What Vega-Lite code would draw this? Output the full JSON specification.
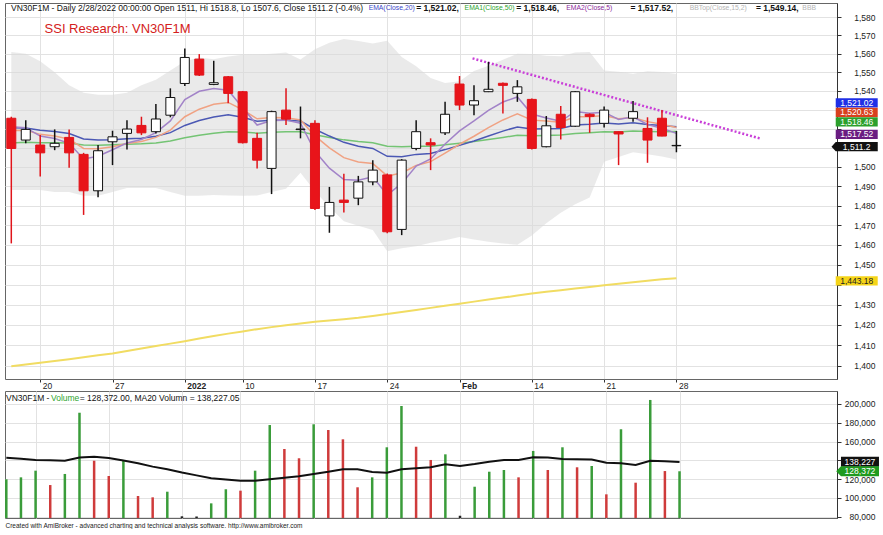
{
"$schema":"https://vega.github.io/schema/vega-lite/v6.json",
"padding":{"left":1,"top":2,"right":0,"bottom":0},
"background":"white",
"config":{"font":"Liberation Sans","view":{"stroke":"#666","strokeWidth":1},"axis":{"labelFont":"Liberation Sans","titleFont":"Liberation Sans","labelOverlap":false,"labelSeparation":0}},
"datasets":{"days":[
{"d":"2021-12-16","i":-2,"o":1525.5,"h":1526.3,"l":1460.7,"c":1509.6,"e5":1521.0,"e10":1519.0,"e20":1520.5,"e50":1512.5,"bbt":1561,"bbb":1488,"ma":1399.8,"v":119800,"vd":"up","vma":142800},
{"d":"2021-12-17","i":-1,"o":1514.0,"h":1524.5,"l":1512.3,"c":1519.6,"e5":1520.5,"e10":1519.1,"e20":1520.4,"e50":1512.8,"bbt":1560,"bbb":1488,"ma":1400.6,"v":121900,"vd":"up","vma":141800},
{"d":"2021-12-20","i":0,"o":1511.4,"h":1516.6,"l":1495.0,"c":1507.3,"e5":1516.1,"e10":1517.0,"e20":1519.2,"e50":1512.6,"bbt":1556,"bbb":1488,"ma":1401.5,"v":129000,"vd":"up","vma":140400},
{"d":"2021-12-21","i":1,"o":1510.5,"h":1519.6,"l":1508.7,"c":1512.3,"e5":1514.8,"e10":1516.1,"e20":1518.5,"e50":1512.6,"bbt":1550,"bbb":1487,"ma":1402.3,"v":113700,"vd":"down","vma":140000},
{"d":"2021-12-22","i":2,"o":1515.4,"h":1519.6,"l":1499.5,"c":1507.3,"e5":1512.3,"e10":1514.5,"e20":1517.4,"e50":1512.4,"bbt":1543,"bbb":1487,"ma":1403.2,"v":125500,"vd":"up","vma":139600},
{"d":"2021-12-23","i":3,"o":1506.5,"h":1507.3,"l":1475.2,"c":1487.6,"e5":1504.1,"e10":1509.6,"e20":1514.6,"e50":1511.4,"bbt":1539,"bbb":1485,"ma":1404.2,"v":190700,"vd":"up","vma":143000},
{"d":"2021-12-24","i":4,"o":1487.6,"h":1511.4,"l":1484.3,"c":1508.4,"e5":1505.5,"e10":1509.4,"e20":1514.0,"e50":1511.3,"bbt":1538,"bbb":1485,"ma":1405.1,"v":139600,"vd":"down","vma":143900},
{"d":"2021-12-27","i":5,"o":1513.1,"h":1518.9,"l":1500.9,"c":1515.7,"e5":1508.9,"e10":1510.5,"e20":1514.2,"e50":1511.5,"bbt":1538,"bbb":1487,"ma":1406.0,"v":123300,"vd":"down","vma":142500},
{"d":"2021-12-28","i":6,"o":1517.5,"h":1524.5,"l":1509.1,"c":1519.8,"e5":1512.5,"e10":1512.2,"e20":1514.7,"e50":1511.8,"bbt":1539,"bbb":1489,"ma":1407.2,"v":139600,"vd":"up","vma":139800},
{"d":"2021-12-29","i":7,"o":1521.7,"h":1526.3,"l":1516.6,"c":1517.8,"e5":1514.3,"e10":1513.2,"e20":1515.0,"e50":1512.0,"bbt":1543,"bbb":1489,"ma":1408.4,"v":102000,"vd":"down","vma":137000},
{"d":"2021-12-30","i":8,"o":1518.4,"h":1533.1,"l":1517.5,"c":1525.1,"e5":1517.9,"e10":1515.4,"e20":1516.0,"e50":1512.5,"bbt":1546,"bbb":1489,"ma":1409.6,"v":100600,"vd":"down","vma":133300},
{"d":"2021-12-31","i":9,"o":1527.1,"h":1541.4,"l":1526.0,"c":1536.5,"e5":1524.1,"e10":1519.2,"e20":1517.9,"e50":1513.5,"bbt":1551,"bbb":1487,"ma":1410.8,"v":106600,"vd":"up","vma":130500},
{"d":"2022-01-04","i":10,"o":1544.0,"h":1562.9,"l":1542.6,"c":1558.0,"e5":1535.4,"e10":1526.3,"e20":1521.7,"e50":1515.2,"bbt":1556,"bbb":1485,"ma":1412.0,"v":80400,"vd":"flat","vma":127000},
{"d":"2022-01-05","i":11,"o":1557.1,"h":1559.8,"l":1548.0,"c":1548.5,"e5":1539.8,"e10":1530.3,"e20":1524.3,"e50":1516.5,"bbt":1558,"bbb":1485,"ma":1413.3,"v":80200,"vd":"flat","vma":124000},
{"d":"2022-01-06","i":12,"o":1543.5,"h":1556.2,"l":1543.1,"c":1544.4,"e5":1541.3,"e10":1532.9,"e20":1526.2,"e50":1517.6,"bbt":1557.0,"bbb":1485.4,"ma":1414.5,"v":94200,"vd":"up","vma":121000},
{"d":"2022-01-07","i":13,"o":1547.6,"h":1548.0,"l":1533.4,"c":1538.7,"e5":1540.4,"e10":1533.9,"e20":1527.4,"e50":1518.4,"bbt":1558.5,"bbb":1485.2,"ma":1415.7,"v":109200,"vd":"up","vma":119500},
{"d":"2022-01-10","i":14,"o":1539.6,"h":1540.0,"l":1512.2,"c":1512.6,"e5":1531.1,"e10":1530.0,"e20":1526.0,"e50":1518.2,"bbt":1559.5,"bbb":1485.0,"ma":1416.8,"v":107700,"vd":"down","vma":118300},
{"d":"2022-01-11","i":15,"o":1514.9,"h":1517.8,"l":1499.2,"c":1503.5,"e5":1521.9,"e10":1525.2,"e20":1523.9,"e50":1517.6,"bbt":1559.6,"bbb":1485.2,"ma":1417.9,"v":129000,"vd":"up","vma":118300},
{"d":"2022-01-12","i":16,"o":1499.2,"h":1529.5,"l":1485.9,"c":1529.0,"e5":1524.3,"e10":1525.9,"e20":1524.4,"e50":1518.1,"bbt":1560.0,"bbb":1487.0,"ma":1418.9,"v":177600,"vd":"up","vma":119800},
{"d":"2022-01-13","i":17,"o":1529.8,"h":1541.4,"l":1521.9,"c":1525.0,"e5":1524.5,"e10":1525.7,"e20":1524.4,"e50":1518.4,"bbt":1560.7,"bbb":1488.7,"ma":1419.8,"v":152100,"vd":"down","vma":121500},
{"d":"2022-01-14","i":18,"o":1519.5,"h":1531.7,"l":1514.9,"c":1519.8,"e5":1522.9,"e10":1524.6,"e20":1524.0,"e50":1518.4,"bbt":1556.9,"bbb":1496.9,"ma":1420.7,"v":142200,"vd":"down","vma":123000},
{"d":"2022-01-17","i":19,"o":1522.8,"h":1524.5,"l":1477.7,"c":1478.5,"e5":1508.1,"e10":1516.2,"e20":1519.7,"e50":1516.8,"bbt":1562.5,"bbb":1487.3,"ma":1421.6,"v":178400,"vd":"up","vma":125500},
{"d":"2022-01-18","i":20,"o":1474.7,"h":1489.6,"l":1466.1,"c":1481.6,"e5":1499.3,"e10":1509.9,"e20":1516.1,"e50":1515.4,"bbt":1566.0,"bbb":1479.2,"ma":1422.2,"v":172300,"vd":"down","vma":127800},
{"d":"2022-01-19","i":21,"o":1482.8,"h":1496.4,"l":1476.4,"c":1481.6,"e5":1493.4,"e10":1504.8,"e20":1512.8,"e50":1514.1,"bbt":1568.0,"bbb":1472.0,"ma":1422.8,"v":162400,"vd":"down","vma":130500},
{"d":"2022-01-20","i":22,"o":1483.8,"h":1495.3,"l":1480.2,"c":1492.2,"e5":1493.0,"e10":1502.5,"e20":1510.8,"e50":1513.2,"bbt":1566.9,"bbb":1469.7,"ma":1423.5,"v":111300,"vd":"down","vma":130500},
{"d":"2022-01-21","i":23,"o":1492.2,"h":1503.5,"l":1490.5,"c":1498.3,"e5":1494.8,"e10":1501.7,"e20":1509.6,"e50":1512.6,"bbt":1565.5,"bbb":1467.5,"ma":1424.4,"v":121900,"vd":"up","vma":127500},
{"d":"2022-01-24","i":24,"o":1495.8,"h":1496.5,"l":1465.8,"c":1466.6,"e5":1485.4,"e10":1495.3,"e20":1505.5,"e50":1510.8,"bbt":1567.1,"bbb":1456.7,"ma":1425.4,"v":153900,"vd":"up","vma":126900},
{"d":"2022-01-25","i":25,"o":1467.8,"h":1504.0,"l":1464.9,"c":1503.5,"e5":1491.4,"e10":1496.8,"e20":1505.3,"e50":1510.5,"bbt":1558.3,"bbb":1458.3,"ma":1426.4,"v":197900,"vd":"up","vma":130500},
{"d":"2022-01-26","i":26,"o":1509.6,"h":1524.5,"l":1508.7,"c":1518.4,"e5":1500.4,"e10":1500.7,"e20":1506.5,"e50":1510.8,"bbt":1553.2,"bbb":1459.2,"ma":1427.4,"v":154500,"vd":"down","vma":131500},
{"d":"2022-01-27","i":27,"o":1512.6,"h":1514.9,"l":1498.3,"c":1511.4,"e5":1504.1,"e10":1502.7,"e20":1507.0,"e50":1510.8,"bbt":1547.0,"bbb":1461.0,"ma":1428.4,"v":140400,"vd":"down","vma":132600},
{"d":"2022-01-28","i":28,"o":1517.8,"h":1534.2,"l":1516.6,"c":1527.6,"e5":1511.9,"e10":1507.2,"e20":1509.0,"e50":1511.5,"bbt":1544.3,"bbb":1462.3,"ma":1429.4,"v":146400,"vd":"up","vma":135800},
{"d":"2022-02-07","i":29,"o":1543.7,"h":1548.0,"l":1529.8,"c":1532.5,"e5":1518.8,"e10":1511.8,"e20":1511.2,"e50":1512.3,"bbt":1545.2,"bbb":1464.0,"ma":1430.5,"v":81000,"vd":"flat","vma":134000},
{"d":"2022-02-08","i":30,"o":1532.5,"h":1543.1,"l":1527.1,"c":1534.8,"e5":1524.1,"e10":1516.0,"e20":1513.5,"e50":1513.2,"bbt":1550.7,"bbb":1462.7,"ma":1431.5,"v":111900,"vd":"up","vma":136000},
{"d":"2022-02-09","i":31,"o":1539.6,"h":1555.6,"l":1539.4,"c":1540.9,"e5":1529.7,"e10":1520.5,"e20":1516.1,"e50":1514.3,"bbt":1553.5,"bbb":1461.5,"ma":1432.5,"v":127900,"vd":"up","vma":138600},
{"d":"2022-02-10","i":32,"o":1544.1,"h":1544.5,"l":1528.0,"c":1543.0,"e5":1534.1,"e10":1524.6,"e20":1518.7,"e50":1515.4,"bbt":1556.7,"bbb":1460.7,"ma":1433.5,"v":129700,"vd":"up","vma":140400},
{"d":"2022-02-11","i":33,"o":1538.7,"h":1545.8,"l":1534.2,"c":1542.2,"e5":1536.8,"e10":1527.8,"e20":1520.9,"e50":1516.5,"bbt":1560.0,"bbb":1460.0,"ma":1434.5,"v":121900,"vd":"down","vma":140400},
{"d":"2022-02-14","i":34,"o":1535.5,"h":1536.0,"l":1509.0,"c":1509.6,"e5":1527.7,"e10":1524.5,"e20":1519.8,"e50":1516.2,"bbt":1559.9,"bbb":1464.7,"ma":1435.5,"v":150000,"vd":"up","vma":143200},
{"d":"2022-02-15","i":35,"o":1510.5,"h":1526.7,"l":1510.2,"c":1521.5,"e5":1525.6,"e10":1524.0,"e20":1520.0,"e50":1516.4,"bbt":1558.9,"bbb":1470.9,"ma":1436.4,"v":129700,"vd":"down","vma":143000},
{"d":"2022-02-16","i":36,"o":1527.6,"h":1532.0,"l":1514.3,"c":1520.6,"e5":1523.9,"e10":1523.4,"e20":1520.1,"e50":1516.6,"bbt":1558.7,"bbb":1476.3,"ma":1437.2,"v":153900,"vd":"up","vma":141400},
{"d":"2022-02-17","i":37,"o":1521.3,"h":1540.0,"l":1521.0,"c":1539.6,"e5":1529.1,"e10":1526.3,"e20":1521.9,"e50":1517.5,"bbt":1560.7,"bbb":1480.7,"ma":1438.0,"v":132600,"vd":"down","vma":141200},
{"d":"2022-02-18","i":38,"o":1527.6,"h":1528.0,"l":1517.8,"c":1526.5,"e5":1528.2,"e10":1526.3,"e20":1522.3,"e50":1517.9,"bbt":1561.0,"bbb":1484.2,"ma":1438.8,"v":134000,"vd":"up","vma":141000},
{"d":"2022-02-21","i":39,"o":1522.8,"h":1531.7,"l":1520.6,"c":1529.8,"e5":1528.7,"e10":1527.0,"e20":1523.0,"e50":1518.4,"bbt":1551.0,"bbb":1502.6,"ma":1439.6,"v":103800,"vd":"down","vma":137500},
{"d":"2022-02-22","i":40,"o":1518.4,"h":1518.6,"l":1500.9,"c":1517.2,"e5":1524.9,"e10":1525.2,"e20":1522.5,"e50":1518.3,"bbt":1550.3,"bbb":1505.1,"ma":1440.4,"v":173100,"vd":"up","vma":136800},
{"d":"2022-02-23","i":41,"o":1525.5,"h":1534.6,"l":1523.7,"c":1529.0,"e5":1526.3,"e10":1525.9,"e20":1523.1,"e50":1518.7,"bbt":1549.2,"bbb":1507.6,"ma":1441.1,"v":116200,"vd":"down","vma":135000},
{"d":"2022-02-24","i":42,"o":1520.1,"h":1526.0,"l":1502.1,"c":1514.0,"e5":1522.2,"e10":1523.7,"e20":1522.2,"e50":1518.5,"bbt":1550.6,"bbb":1506.6,"ma":1441.9,"v":204300,"vd":"up","vma":139600},
{"d":"2022-02-25","i":43,"o":1525.5,"h":1529.8,"l":1516.0,"c":1516.1,"e5":1520.2,"e10":1522.3,"e20":1521.6,"e50":1518.4,"bbt":1550.2,"bbb":1505.4,"ma":1442.6,"v":128600,"vd":"down","vma":139000},
{"d":"2022-02-28","i":44,"o":1511.0,"h":1518.8,"l":1507.6,"c":1511.2,"e5":1517.52,"e10":1520.63,"e20":1521.02,"e50":1518.46,"bbt":1549.14,"bbb":1503.8,"ma":1443.18,"v":128372,"vd":"up","vma":138227}
]},
"bounds":"flush",
"spacing":12,
"vconcat":[
{
"width":832,"height":376,
"data":{"name":"days"},
"layer":[
{"mark":{"type":"area","color":"#d9d9d9","opacity":0.55,"clip":true},
 "encoding":{
  "x":{"field":"i","type":"quantitative","scale":{"domain":[-2.09,54.76],"nice":false,"zero":false},
   "axis":{"orient":"bottom","values":[0,5,10,14,19,24,29,34,39,44],"tickCount":30,"labelExpr":"datum.value==0?'20':datum.value==5?'27':datum.value==10?'2022':datum.value==14?'10':datum.value==19?'17':datum.value==24?'24':datum.value==29?'Feb':datum.value==34?'14':datum.value==39?'21':'28'","labelAlign":"left","labelOffset":2,"labelFontSize":8.5,"labelColor":"#222","labelPadding":-1,"tickSize":3,"tickColor":"#333","domain":false,"grid":true,"gridColor":"#e2e2e2","title":null,"labelOverlap":false,"labelBound":false,"labelFlush":false,"labelFontWeight":{"condition":{"test":"datum.value==10 || datum.value==29","value":"bold"},"value":"normal"}}},
  "y":{"field":"bbb","type":"quantitative","title":null,"scale":{"type":"log","domain":[1393.6,1587.7],"nice":false},
   "axis":{"orient":"right","values":[1400,1410,1420,1430,1440,1450,1460,1470,1480,1490,1500,1510,1520,1530,1540,1550,1560,1570,1580],"tickCount":40,"labelExpr":"indexof([1440,1510,1520,1530], datum.value) >= 0 ? '' : format(datum.value, ',')","labelAlign":"right","labelPadding":34,"tickSize":4,"labelFontSize":8.5,"labelColor":"#222","domainColor":"#333","tickColor":"#333","grid":true,"gridColor":"#e2e2e2","title":null,"labelOverlap":false}},
  "y2":{"field":"bbt"}}},
{"mark":{"type":"line","color":"#f1dc62","strokeWidth":2,"clip":true},"encoding":{"x":{"field":"i","type":"quantitative"},"y":{"field":"ma","type":"quantitative","title":null}}},
{"mark":{"type":"line","color":"#74c474","strokeWidth":1.5},"encoding":{"x":{"field":"i","type":"quantitative"},"y":{"field":"e50","type":"quantitative","title":null}}},
{"mark":{"type":"line","color":"#4b58b4","strokeWidth":1.5},"encoding":{"x":{"field":"i","type":"quantitative"},"y":{"field":"e20","type":"quantitative","title":null}}},
{"mark":{"type":"line","color":"#f0a283","strokeWidth":1.5},"encoding":{"x":{"field":"i","type":"quantitative"},"y":{"field":"e10","type":"quantitative","title":null}}},
{"mark":{"type":"line","color":"#a283c8","strokeWidth":1.5},"encoding":{"x":{"field":"i","type":"quantitative"},"y":{"field":"e5","type":"quantitative","title":null}}},
{"data":{"values":[{"i":29.9,"p":1557.5},{"i":49.85,"p":1514.7}]},
 "mark":{"type":"line","color":"#c93fd8","strokeWidth":2.5,"strokeDash":[2,2]},
 "encoding":{"x":{"field":"i","type":"quantitative"},"y":{"field":"p","type":"quantitative","title":null}}},
{"mark":{"type":"rule","strokeWidth":1.5,"clip":true},
 "encoding":{"x":{"field":"i","type":"quantitative"},"y":{"field":"l","type":"quantitative","title":null},"y2":{"field":"h"},
  "color":{"condition":{"test":"datum.c >= datum.o","value":"#111111"},"value":"#e0141a"}}},
{"mark":{"type":"bar","size":9,"strokeWidth":1,"clip":true},
 "encoding":{"x":{"field":"i","type":"quantitative"},"y":{"field":"o","type":"quantitative","title":null},"y2":{"field":"c"},
  "fill":{"condition":{"test":"datum.c >= datum.o","value":"#ffffff"},"value":"#e8141a"},
  "stroke":{"condition":{"test":"datum.c >= datum.o","value":"#111111"},"value":"#e0141a"}}},
{"data":{"values":[{}]},"mark":{"type":"text","align":"left","baseline":"middle","fontSize":8.5,"color":"#111"},
 "encoding":{"x":{"datum":-2.022},"y":{"datum":1584.9},"text":{"value":"VN30F1M - Daily 2/28/2022 00:00:00 Open 1511, Hi 1518.8, Lo 1507.6, Close 1511.2 (-0.4%)"}}},
{"data":{"values":[{}]},"mark":{"type":"text","align":"left","baseline":"middle","fontSize":6.8,"color":"#3a46c8"},
 "encoding":{"x":{"datum":22.714},"y":{"datum":1584.9},"text":{"value":"EMA(Close,20)"}}},
{"data":{"values":[{}]},"mark":{"type":"text","align":"left","baseline":"middle","fontSize":8.5,"fontWeight":"bold","color":"#111"},
 "encoding":{"x":{"datum":26.0},"y":{"datum":1584.9},"text":{"value":"= 1,521.02,"}}},
{"data":{"values":[{}]},"mark":{"type":"text","align":"left","baseline":"middle","fontSize":6.8,"color":"#2ea42e"},
 "encoding":{"x":{"datum":29.35},"y":{"datum":1584.9},"text":{"value":"EMA1(Close,50)"}}},
{"data":{"values":[{}]},"mark":{"type":"text","align":"left","baseline":"middle","fontSize":8.5,"fontWeight":"bold","color":"#111"},
 "encoding":{"x":{"datum":32.92},"y":{"datum":1584.9},"text":{"value":"= 1,518.46,"}}},
{"data":{"values":[{}]},"mark":{"type":"text","align":"left","baseline":"middle","fontSize":6.8,"color":"#8a2a9a"},
 "encoding":{"x":{"datum":36.38},"y":{"datum":1584.9},"text":{"value":"EMA2(Close,5)"}}},
{"data":{"values":[{}]},"mark":{"type":"text","align":"left","baseline":"middle","fontSize":8.5,"fontWeight":"bold","color":"#111"},
 "encoding":{"x":{"datum":40.821},"y":{"datum":1584.9},"text":{"value":"= 1,517.52,"}}},
{"data":{"values":[{}]},"mark":{"type":"text","align":"left","baseline":"middle","fontSize":6.8,"color":"#b4b4b4"},
 "encoding":{"x":{"datum":44.921},"y":{"datum":1584.9},"text":{"value":"BBTop(Close,15,2)"}}},
{"data":{"values":[{}]},"mark":{"type":"text","align":"left","baseline":"middle","fontSize":8.5,"fontWeight":"bold","color":"#111"},
 "encoding":{"x":{"datum":49.499},"y":{"datum":1584.9},"text":{"value":"= 1,549.14,"}}},
{"data":{"values":[{}]},"mark":{"type":"text","align":"left","baseline":"middle","fontSize":6.8,"color":"#b4b4b4"},
 "encoding":{"x":{"datum":52.71},"y":{"datum":1584.9},"text":{"value":"BBB"}}},
{"data":{"values":[{}]},"mark":{"type":"text","align":"left","baseline":"middle","fontSize":13,"color":"#d42020"},
 "encoding":{"x":{"datum":0.30},"y":{"datum":1573.4},"text":{"value":"SSI Research: VN30F1M"}}},
{"data":{"values":[{}]},"encoding":{"x":{"datum":56.47},"y":{"datum":1533.7}},"layer":[
 {"mark":{"type":"point","shape":"M-1,-0.22L1,-0.22L1,0.22L-1,0.22Z","size":1764,"filled":true,"opacity":1,"color":"#1f2fe6"}},
 {"mark":{"type":"text","fontSize":8.5,"color":"#ffffff","align":"center","baseline":"middle"},"encoding":{"text":{"value":"1,521.02"}}}]},
{"data":{"values":[{}]},"encoding":{"x":{"datum":56.47},"y":{"datum":1528.6}},"layer":[
 {"mark":{"type":"point","shape":"M-1,-0.22L1,-0.22L1,0.22L-1,0.22Z","size":1764,"filled":true,"opacity":1,"color":"#d8401e"}},
 {"mark":{"type":"text","fontSize":8.5,"color":"#ffffff","align":"center","baseline":"middle"},"encoding":{"text":{"value":"1,520.63"}}}]},
{"data":{"values":[{}]},"encoding":{"x":{"datum":56.47},"y":{"datum":1523.6}},"layer":[
 {"mark":{"type":"point","shape":"M-1,-0.22L1,-0.22L1,0.22L-1,0.22Z","size":1764,"filled":true,"opacity":1,"color":"#2ca02c"}},
 {"mark":{"type":"text","fontSize":8.5,"color":"#ffffff","align":"center","baseline":"middle"},"encoding":{"text":{"value":"1,518.46"}}}]},
{"data":{"values":[{}]},"encoding":{"x":{"datum":56.47},"y":{"datum":1517.0}},"layer":[
 {"mark":{"type":"point","shape":"M-1,-0.22L1,-0.22L1,0.22L-1,0.22Z","size":1764,"filled":true,"opacity":1,"color":"#6a1d82"}},
 {"mark":{"type":"text","fontSize":8.5,"color":"#ffffff","align":"center","baseline":"middle"},"encoding":{"text":{"value":"1,517.52"}}}]},
{"data":{"values":[{}]},"encoding":{"x":{"datum":56.47},"y":{"datum":1510.5}},"layer":[
 {"mark":{"type":"point","shape":"M-1.2,0L-1,-0.22L1,-0.22L1,0.22L-1,0.22Z","size":1764,"filled":true,"opacity":1,"color":"#111111"}},
 {"mark":{"type":"text","fontSize":8.5,"color":"#ffffff","align":"center","baseline":"middle"},"encoding":{"text":{"value":"1,511.2"}}}]},
{"data":{"values":[{}]},"encoding":{"x":{"datum":56.47},"y":{"datum":1441.8}},"layer":[
 {"mark":{"type":"point","shape":"M-1,-0.22L1,-0.22L1,0.22L-1,0.22Z","size":1764,"filled":true,"opacity":1,"color":"#f5d418"}},
 {"mark":{"type":"text","fontSize":8.5,"color":"#222222","align":"center","baseline":"middle"},"encoding":{"text":{"value":"1,443.18"}}}]}
]
},
{
"width":832,"height":127,
"data":{"name":"days"},
"layer":[
{"mark":{"type":"rule","strokeWidth":2.5},
 "encoding":{
  "x":{"field":"i","type":"quantitative","scale":{"domain":[-2.09,54.76],"nice":false,"zero":false},
   "axis":{"orient":"bottom","values":[0,5,10,14,19,24,29,34,39,44],"tickCount":30,"labels":false,"ticks":false,"domain":false,"grid":true,"gridColor":"#e2e2e2","title":"Created with AmiBroker - advanced charting and technical analysis software. http://www.amibroker.com","titleFontSize":6.5,"titleFontWeight":"normal","titleAnchor":"start","titlePadding":4,"titleColor":"#222"}},
  "y":{"field":"v","type":"quantitative","title":null,"scale":{"domain":[78600,213840],"nice":false,"zero":false},
   "axis":{"orient":"right","values":[80000,100000,120000,140000,160000,180000,200000],"tickCount":20,"labelExpr":"datum.value == 140000 ? '' : format(datum.value, ',')","labelAlign":"right","labelPadding":34,"tickSize":4,"labelFontSize":8.5,"labelColor":"#222","domainColor":"#333","tickColor":"#333","grid":true,"gridColor":"#e2e2e2","title":null,"labelOverlap":false}},
  "y2":{"datum":78600},
  "color":{"field":"vd","type":"nominal","scale":{"domain":["up","down","flat"],"range":["#3a9c3a","#cf3b3b","#222222"]},"legend":null}}},
{"mark":{"type":"line","color":"#111111","strokeWidth":2},"encoding":{"x":{"field":"i","type":"quantitative"},"y":{"field":"vma","type":"quantitative","title":null}}},
{"data":{"values":[{}]},"mark":{"type":"text","align":"left","baseline":"middle","fontSize":8.5,"color":"#111"},
 "encoding":{"x":{"datum":-2.022},"y":{"datum":206400},"text":{"value":"VN30F1M - "}}},
{"data":{"values":[{}]},"mark":{"type":"text","align":"left","baseline":"middle","fontSize":8.5,"color":"#2ea42e"},
 "encoding":{"x":{"datum":1.053},"y":{"datum":206400},"text":{"value":"Volume"}}},
{"data":{"values":[{}]},"mark":{"type":"text","align":"left","baseline":"middle","fontSize":8.5,"color":"#111"},
 "encoding":{"x":{"datum":3.021},"y":{"datum":206400},"text":{"value":" = 128,372.00, MA20 Volumn = 138,227.05"}}},
{"data":{"values":[{}]},"encoding":{"x":{"datum":56.33},"y":{"datum":138550}},"layer":[
 {"mark":{"type":"point","shape":"M-1,-0.26L1,-0.26L1,0.26L-1,0.26Z","size":1444,"filled":true,"opacity":1,"color":"#111111"}},
 {"mark":{"type":"text","fontSize":8.5,"color":"#ffffff","align":"center","baseline":"middle"},"encoding":{"text":{"value":"138,227"}}}]},
{"data":{"values":[{}]},"encoding":{"x":{"datum":56.33},"y":{"datum":128372}},"layer":[
 {"mark":{"type":"point","shape":"M-1.25,0L-1,-0.26L1,-0.26L1,0.26L-1,0.26Z","size":1444,"filled":true,"opacity":1,"color":"#1f9a1f"}},
 {"mark":{"type":"text","fontSize":8.5,"color":"#ffffff","align":"center","baseline":"middle"},"encoding":{"text":{"value":"128,372"}}}]}
]
}
]
}
